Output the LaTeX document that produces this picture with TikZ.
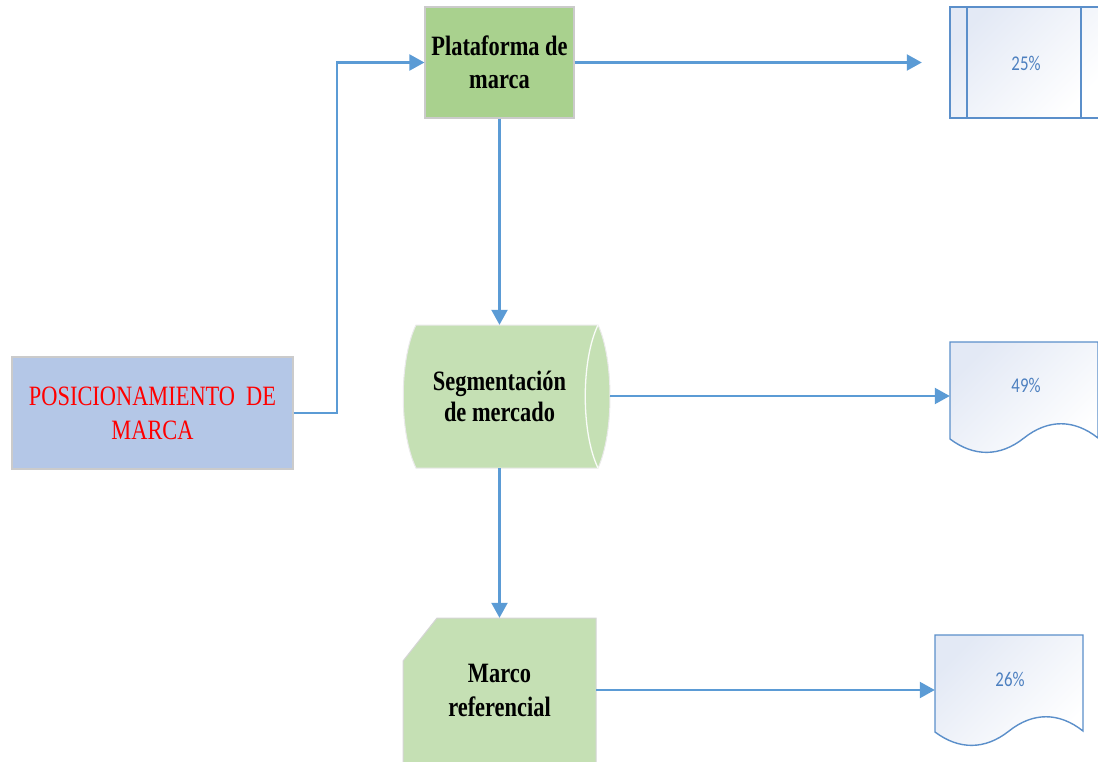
\documentclass[tikz,border=0pt]{standalone}
\usepackage{fontspec}
\setmainfont{Liberation Serif}
\newfontfamily\condserif[FakeStretch=0.8]{Liberation Serif}
\newfontfamily\pctfont[FakeStretch=0.8]{Carlito}
\usetikzlibrary{arrows.meta}
\definecolor{linkblue}{HTML}{5B9BD5}
\definecolor{boxblue}{HTML}{B4C7E7}
\definecolor{darkgreen}{HTML}{A9D18E}
\definecolor{lightgreen}{HTML}{C5E0B4}
\definecolor{edgegray}{HTML}{CBCBCB}
\definecolor{docedge}{HTML}{5B8FCA}
\definecolor{docfill}{HTML}{E3E9F5}
\definecolor{doctext}{HTML}{4D80C0}
\definecolor{posred}{HTML}{FF0000}
\begin{document}
\begin{tikzpicture}[x=1pt,y=-1pt,
  link/.style={draw=linkblue, line width=2.2pt, -{Triangle[length=15pt,width=16pt]}},
  boldlabel/.style={align=center, inner sep=0pt,
    font=\condserif\bfseries\fontsize{28}{33}\selectfont},
  procbox/.style={draw=edgegray, line width=1.2pt},
  docshape/.style={draw=docedge, line width=1.4pt, top color=docfill, bottom color=white,
    shading angle=45},
  pcttext/.style={text=doctext, font=\pctfont\fontsize{21}{24}\selectfont, inner sep=0pt}]
\clip (0,0) rectangle (1098,762);
\fill[white] (0,0) rectangle (1098,762);

% brand positioning box
\node[procbox, fill=boxblue, minimum width=281pt, minimum height=112pt,
      align=center, text=posred,
      font=\condserif\fontsize{28}{34}\selectfont] (pos) at (152.5,413)
  {POSICIONAMIENTO\hspace{11pt}DE\\MARCA};

% brand platform
\node[procbox, fill=darkgreen, minimum width=149pt, minimum height=111pt,
      boldlabel] (plat) at (499.5,62.5) {Plataforma de\\marca};

% market segmentation (stored-data drum)
\path[fill=lightgreen, draw=edgegray!40, line width=1pt]
  (416,325) -- (598,325) .. controls (614,360) and (614,433) .. (598,468)
  -- (416,468) .. controls (399,433) and (399,360) .. (416,325) -- cycle;
\draw[white!90!lightgreen, line width=1.3pt]
  (598,325) .. controls (581,360) and (581,433) .. (598,468);
\node[minimum width=192pt, minimum height=143pt, boldlabel,
      font=\condserif\bfseries\fontsize{28}{31}\selectfont] (seg) at (499.5,396.5)
  {Segmentación\\de mercado};
\coordinate (segR) at (610,396);

% reference frame (card shape)
\path[fill=lightgreen, draw=edgegray!80, line width=1pt]
  (437,618) -- (596,618) -- (596,775) -- (403,775) -- (403,661) -- cycle;
\node[minimum width=193pt, minimum height=144pt, boldlabel,
      font=\condserif\bfseries\fontsize{28}{34}\selectfont] (marco) at (499.5,690)
  {Marco\\referencial};

% predefined-process box, 25%
\path[docshape] (950,7) rectangle (1099,118);
\draw[docedge, line width=1.4pt] (967,7) -- (967,118) (1081,7) -- (1081,118);
\node[minimum width=149pt, minimum height=111pt, inner sep=0pt] (d25) at (1024.5,62.5) {};
\node[pcttext] (t25) at (1026,63) {25\%};

% document shapes, 49% and 26%
\path[docshape] (950,342) -- (1098,342) -- (1098,438)
  .. controls (1074,419) and (1048,419) .. (1024,438)
  .. controls (1000,457) and (974,457) .. (950,439) -- cycle;
\node[minimum width=148pt, minimum height=96pt, inner sep=0pt] (d49) at (1024,390) {};
\node[pcttext] (t49) at (1026,385) {49\%};

\path[docshape] (935,635) -- (1083,635) -- (1083,731)
  .. controls (1059,712) and (1033,712) .. (1009,731)
  .. controls (985,750) and (959,750) .. (935,732) -- cycle;
\node[minimum width=148pt, minimum height=97pt, inner sep=0pt] (d26) at (1009,683.5) {};
\node[pcttext] (t26) at (1010,679) {26\%};

% connectors
\draw[link] (pos.east) -- ++(43,0) |- (plat.west);
\draw[link] (plat.east) -- ([xshift=-28pt]plat.east -| d25.west);
\draw[link] (plat.south) -- (seg.north);
\draw[link] (segR) -- (segR -| d49.west);
\draw[link] (seg.south) -- (marco.north);
\draw[link] (marco.east) -- (marco.east -| d26.west);
\end{tikzpicture}
\end{document}
